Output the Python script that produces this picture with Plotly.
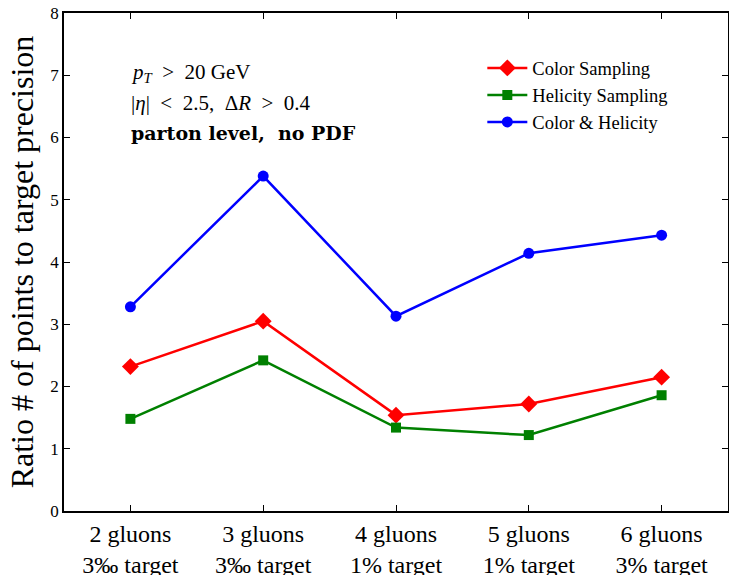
import plotly.graph_objects as go

categories = ["2 gluons<br>3‰ target", "3 gluons<br>3‰ target", "4 gluons<br>1% target",
              "5 gluons<br>1% target", "6 gluons<br>3% target"]
color_sampling = [2.32, 3.05, 1.54, 1.72, 2.15]
helicity_sampling = [1.48, 2.42, 1.34, 1.22, 1.86]
color_helicity = [3.28, 5.38, 3.13, 4.14, 4.43]
y_ticks = [0, 1, 2, 3, 4, 5, 6, 7, 8]

FONT = "Liberation Serif"
xidx = list(range(len(categories)))

fig = go.Figure()
fig.add_trace(go.Scatter(x=xidx, y=color_sampling, mode="lines+markers", name="Color Sampling",
                         line=dict(color="#ff0000", width=2.5),
                         marker=dict(symbol="diamond", size=13, color="#ff0000")))
fig.add_trace(go.Scatter(x=xidx, y=helicity_sampling, mode="lines+markers", name="Helicity Sampling",
                         line=dict(color="#008000", width=2.5),
                         marker=dict(symbol="square", size=10, color="#008000")))
fig.add_trace(go.Scatter(x=xidx, y=color_helicity, mode="lines+markers", name="Color &amp; Helicity",
                         line=dict(color="#0000ff", width=2.5),
                         marker=dict(symbol="circle", size=11, color="#0000ff")))

fig.update_layout(
    width=729, height=575,
    margin=dict(l=64, r=1, t=13, b=63.5),
    paper_bgcolor="white", plot_bgcolor="white",
    font=dict(family=FONT, color="black"),
    showlegend=True,
    legend=dict(x=0.63, y=0.927, xanchor="left", yanchor="top",
                font=dict(size=18.5, family=FONT), bgcolor="rgba(255,255,255,0)",
                tracegroupgap=0, itemwidth=40),
    xaxis=dict(range=[-0.5, 4.5], tickmode="array", tickvals=xidx, ticktext=categories,
               automargin=False,
               showgrid=False, zeroline=False, showline=True, linecolor="black", linewidth=1.5,
               mirror="ticks", ticks="inside", ticklen=6, tickcolor="black",
               tickfont=dict(size=24, family=FONT)),
    yaxis=dict(range=[0, 8], tickmode="array", tickvals=y_ticks, automargin=False,
               showgrid=False, zeroline=False, showline=True, linecolor="black", linewidth=1.5,
               mirror="ticks", ticks="inside", ticklen=6, tickcolor="black",
               tickfont=dict(size=17, family=FONT),
               title=dict(text="Ratio # of points to target precision", font=dict(size=32, family=FONT),
                          standoff=7)),
)

NB = "\u00a0"
ann_lines = [
    f"<i>p</i><sub><i>T</i></sub>{NB}{NB}&gt;{NB}{NB}20 GeV",
    f"|<i>η</i>|{NB}{NB}&lt;{NB}{NB}2.5,{NB}{NB}Δ<i>R</i>{NB}{NB}&gt;{NB}{NB}0.4",
]
ann_y = [7.04, 6.56]
for t, yy in zip(ann_lines, ann_y):
    fig.add_annotation(x=-0.01, y=yy, xref="x", yref="y", text=t, showarrow=False,
                       xanchor="left", yanchor="middle", font=dict(size=21, family=FONT))
fig.add_annotation(x=-0.01, y=6.07, xref="x", yref="y",
                   text=f"<b>parton level,{NB}{NB}no PDF</b>",
                   showarrow=False, xanchor="left", yanchor="middle",
                   font=dict(size=19, family="DejaVu Serif"))

fig.write_html("out.html", config={"displayModeBar": False},
               post_script="document.body.style.margin='0px';")
